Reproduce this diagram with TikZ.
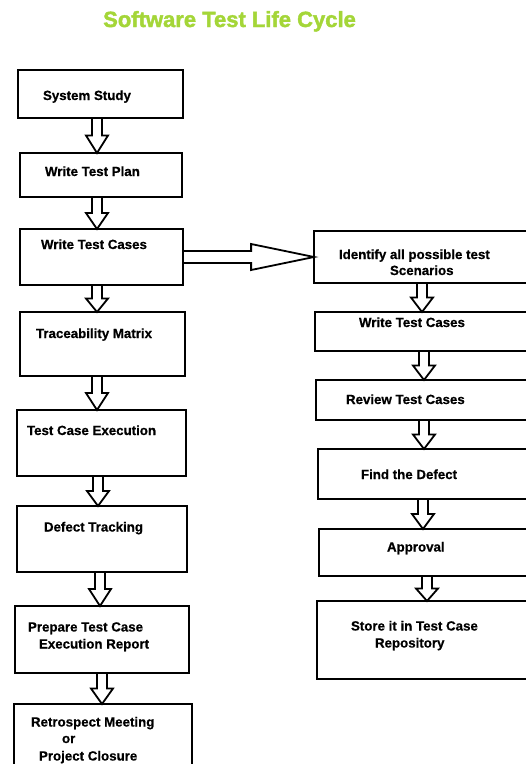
\documentclass[tikz,border=0pt]{standalone}
\usepackage{fontspec}
\setmainfont{Liberation Sans}[BoldFeatures={FakeBold=0.6}]
\newfontfamily\titlefont{Liberation Sans}[BoldFeatures={FakeBold=1.8}]
\usetikzlibrary{calc}
\definecolor{titlegreen}{RGB}{164,214,56}
\tikzset{
  box/.style={draw=black, line width=2.2pt, rectangle, inner sep=0pt, outer sep=0pt, anchor=north west},
  lbl/.style={anchor=base west, inner sep=0pt, outer sep=0pt, font=\fontsize{13.3}{16}\selectfont\bfseries},
  blockarr/.style={draw=black, line width=1.8pt, line join=miter},
}
\newcommand\flowdown[3]{%
  \draw[blockarr] let \p1=(#1.south), \p2=(#2.north), \n1={\y2+0.5*(\y1-\y2)} in
    (#3pt-5pt,\y1) -- (#3pt-5pt,\n1) -- (#3pt-11pt,\n1) -- (#3pt,\y2)
    -- (#3pt+11pt,\n1) -- (#3pt+5pt,\n1) -- (#3pt+5pt,\y1);}
\begin{document}
\begin{tikzpicture}[x=1pt,y=-1pt]
\useasboundingbox (0,0) rectangle (526,764);
\clip (0,0) rectangle (526,764);
\fill[white] (0,0) rectangle (526,764);

\node[anchor=base west, inner sep=0pt, font=\titlefont\fontsize{22}{26}\selectfont\bfseries, text=titlegreen] (title) at (103,27) {Software Test Life Cycle};

% left column boxes
\node[box, minimum width=165pt, minimum height=48pt] (b1) at (18,70) {};
\node[box, minimum width=162pt, minimum height=44pt] (b2) at (20,153) {};
\node[box, minimum width=163pt, minimum height=56pt] (b3) at (20,229) {};
\node[box, minimum width=165pt, minimum height=64pt] (b4) at (20,312) {};
\node[box, minimum width=169pt, minimum height=66pt] (b5) at (17,410) {};
\node[box, minimum width=170pt, minimum height=66pt] (b6) at (17,506) {};
\node[box, minimum width=174pt, minimum height=67pt] (b7) at (15,606) {};
\node[box, minimum width=178pt, minimum height=90pt] (b8) at (14,704) {};

% right column boxes
\node[box, minimum width=250pt, minimum height=52pt] (r1) at (314,231) {};
\node[box, minimum width=250pt, minimum height=39pt] (r2) at (315,312) {};
\node[box, minimum width=250pt, minimum height=40pt] (r3) at (316,380) {};
\node[box, minimum width=250pt, minimum height=50pt] (r4) at (318,449) {};
\node[box, minimum width=250pt, minimum height=47pt] (r5) at (319,529) {};
\node[box, minimum width=250pt, minimum height=78pt] (r6) at (317,601) {};

% labels left
\node[lbl] (t1) at (43,100) {System Study};
\node[lbl] (t2) at (45,176) {Write Test Plan};
\node[lbl] (t3) at (41,249) {Write Test Cases};
\node[lbl] (t4) at (36,338) {Traceability Matrix};
\node[lbl] (t5) at (27,435) {Test Case Execution};
\node[lbl] (t6) at (44,531.5) {Defect Tracking};
\node[lbl] (t7a) at (28,631.5) {Prepare Test Case};
\node[lbl] (t7b) at (39,648.5) {Execution Report};
\node[lbl] (t8a) at (31,726.5) {Retrospect Meeting};
\node[lbl] (t8b) at (62,743) {or};
\node[lbl] (t8c) at (39,760.5) {Project Closure};

% labels right
\node[lbl] (s1a) at (339,259) {Identify all possible test};
\node[lbl] (s1b) at (390,275) {Scenarios};
\node[lbl] (s2) at (359,327) {Write Test Cases};
\node[lbl] (s3) at (346,404) {Review Test Cases};
\node[lbl] (s4) at (361,479) {Find the Defect};
\node[lbl] (s5) at (387,551.5) {Approval};
\node[lbl] (s6a) at (351,630.5) {Store it in Test Case};
\node[lbl] (s6b) at (375,647.5) {Repository};

% down arrows left
\flowdown{b1}{b2}{97}
\flowdown{b2}{b3}{97}
\flowdown{b3}{b4}{97}
\flowdown{b4}{b5}{97}
\flowdown{b5}{b6}{98}
\flowdown{b6}{b7}{100}
\flowdown{b7}{b8}{102}

% down arrows right
\flowdown{r1}{r2}{422}
\flowdown{r2}{r3}{424}
\flowdown{r3}{r4}{424}
\flowdown{r4}{r5}{423}
\flowdown{r5}{r6}{427}

% big right arrow
\draw[blockarr] let \p1=(b3.east), \p2=(r1.west), \n1={\x1+0.52*(\x2-\x1)} in
  (\x1,\y2+6pt) -- (\n1,\y2+6pt) -- (\n1,\y2+13pt) -- (\x2,\y2)
  -- (\n1,\y2-13pt) -- (\n1,\y2-6pt) -- (\x1,\y2-6pt) -- cycle;
\end{tikzpicture}
\end{document}
